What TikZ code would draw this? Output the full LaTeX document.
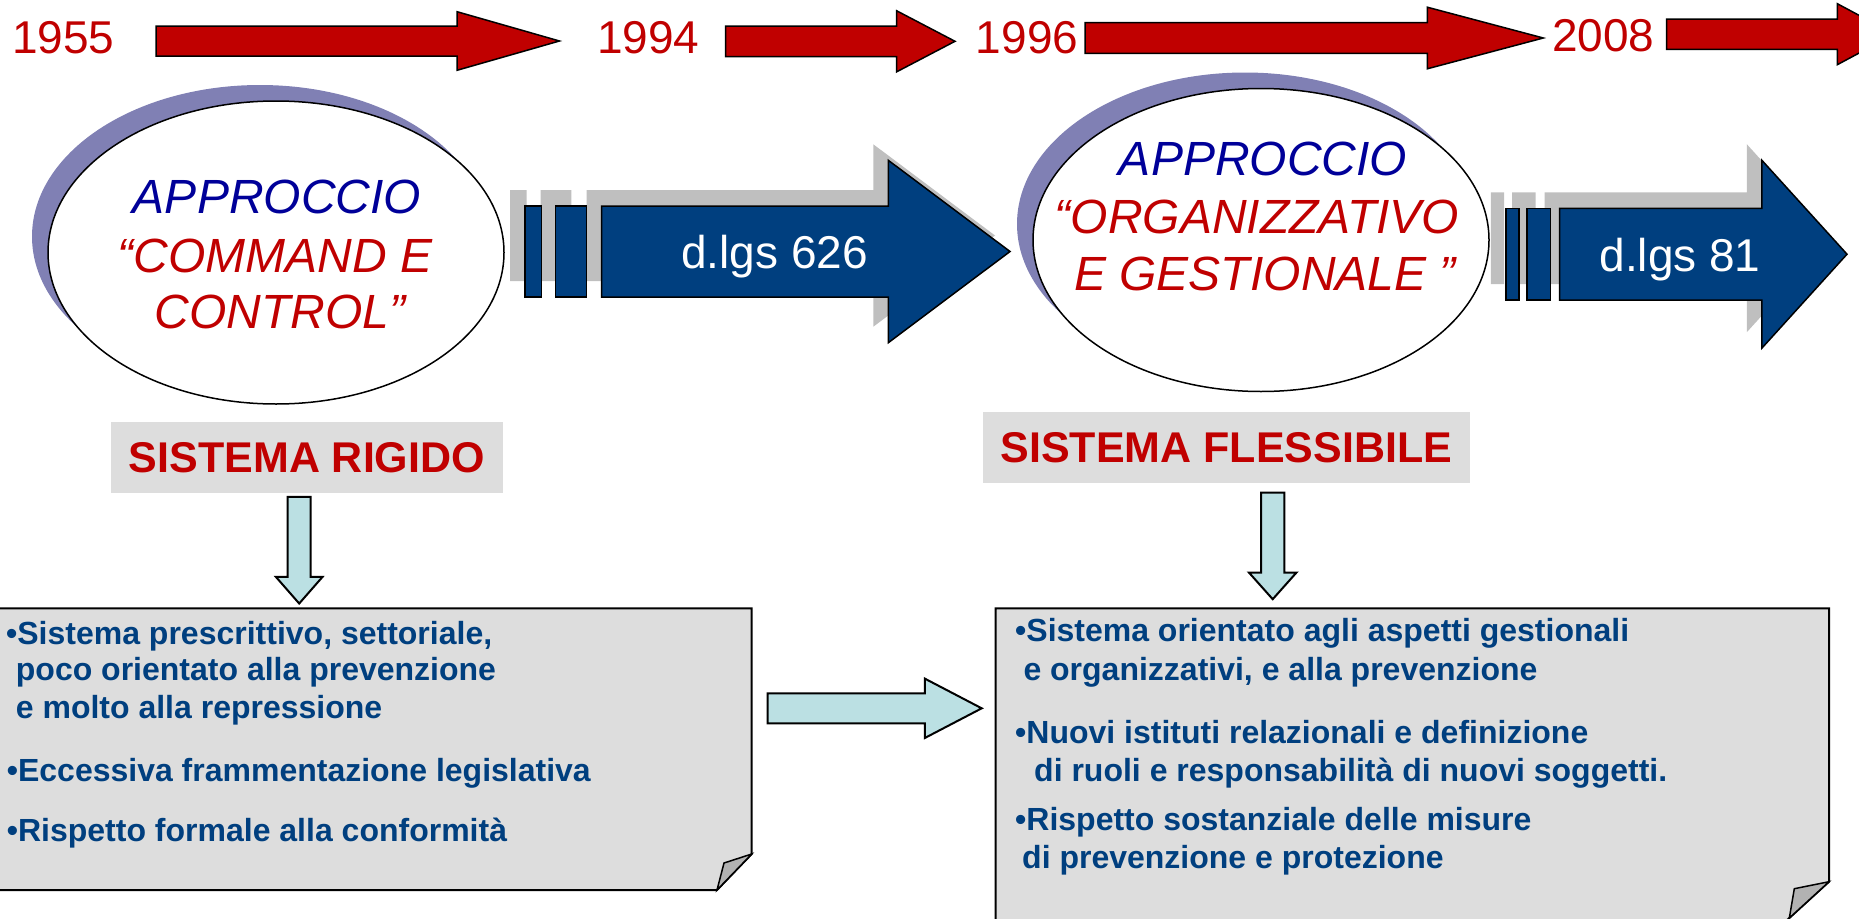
\documentclass[tikz,border=0pt]{standalone}
\usepackage{fontspec}
\setmainfont{Liberation Sans}
\usepackage{tikz}
\usetikzlibrary{shapes,positioning}
\definecolor{yearred}{rgb}{0.753, 0, 0}
\definecolor{apblue}{rgb}{0, 0, 0.6}
\definecolor{lawblue}{rgb}{0, 0.247, 0.498}
\definecolor{ovalshade}{rgb}{0.5, 0.5, 0.706}
\definecolor{lawshade}{rgb}{0.75, 0.75, 0.75}
\definecolor{panelgray}{rgb}{0.867, 0.867, 0.867}
\definecolor{flapgray}{rgb}{0.7, 0.7, 0.7}
\definecolor{pointcyan}{rgb}{0.733, 0.878, 0.890}
\tikzstyle{yearlabel}=[anchor=base, inner sep=0pt, text=yearred, font=\fontsize{46}{52}\selectfont]
\tikzstyle{timearrow}=[draw=black, line width=1.5pt, fill=yearred]
\tikzstyle{approach}=[ellipse, draw=black, line width=1.5pt, fill=white, minimum width=456pt, minimum height=303pt, inner sep=0pt]
\tikzstyle{approachshade}=[ellipse, fill=ovalshade, minimum width=456pt, minimum height=303pt, inner sep=0pt]
\tikzstyle{approachtext}=[anchor=base, inner sep=0pt, font=\itshape\fontsize{48}{56}\selectfont]
\tikzstyle{lawarrow}=[draw=black, line width=1.5pt, fill=lawblue]
\tikzstyle{lawshadow}=[fill=lawshade]
\tikzstyle{lawtext}=[anchor=base, inner sep=0pt, text=white, font=\fontsize{46}{52}\selectfont]
\tikzstyle{systembox}=[fill=panelgray, inner sep=0pt, minimum height=70.4pt, text=yearred, font=\bfseries\fontsize{43}{50}\selectfont]
\tikzstyle{pointer}=[draw=black, line width=2pt, fill=pointcyan]
\tikzstyle{panel}=[draw=black, line width=2pt, fill=panelgray]
\tikzstyle{flap}=[draw=black, line width=1.5pt, fill=flapgray]
\tikzstyle{paneltext}=[anchor=base west, inner sep=0pt, text=lawblue, font=\bfseries\fontsize{32}{38}\selectfont]
% arrow going right / down from a tail point: style, tail, shaft length, shaft half, head half, head length
\newcommand{\rightblock}[6]{\path[#1] (#2) ++(0,-#4) -- ++(#3,0) -- ++(0,#4-#5) -- ++(#6,#5) -- ++(-#6,#5) -- ++(0,#4-#5) -- ++(-#3,0) -- cycle;}
\newcommand{\downblock}[6]{\path[#1] (#2) ++(-#4,0) -- ++(0,#3) -- ++(#4-#5,0) -- ++(#5,#6) -- ++(#5,-#6) -- ++(#4-#5,0) -- ++(0,-#3) -- cycle;}

\begin{document}
\begin{tikzpicture}[x=1pt,y=-1pt]
\useasboundingbox (0,0) rectangle (1859,918);
\clip (0,0) rectangle (1859,918);

% timeline
\node[yearlabel] (y1955) at (63.2,53.3) {1955};
\node[yearlabel] (y1994) at (648.3,53.3) {1994};
\node[yearlabel] (y1996) at (1027,53.3) {1996};
\node[yearlabel] (y2008) at (1603.4,51.7) {2008};

\coordinate (t1) at (156,41);
\coordinate (t2) at (725.7,41.3);
\coordinate (t3) at (1085,38);
\coordinate (t4) at (1666.7,34.2);
\rightblock{timearrow}{t1}{301}{15}{29.3}{102.5}
\rightblock{timearrow}{t2}{171}{15.3}{30.5}{58.3}
\rightblock{timearrow}{t3}{342.3}{15.3}{30.8}{116}
\rightblock{timearrow}{t4}{170.6}{15.2}{30.5}{57}

% shadows of the law arrows
\begin{scope}[shift={(-15,-16)}]
\coordinate (law1shade) at (601.6,251.5);
\coordinate (law2shade) at (1559.7,254.2);
\path[lawshadow] (525,206) rectangle (541.5,297) (555.6,206) rectangle (586.4,297);
\rightblock{lawshadow}{law1shade}{286.7}{45.5}{91.2}{121.7}
\path[lawshadow] (1505.9,208.4) rectangle (1519,300) (1527,208.4) rectangle (1550.5,300);
\rightblock{lawshadow}{law2shade}{202.1}{45.8}{94}{85.2}
\end{scope}

% approaches
\node[approachshade] (cmdshade) at (260,236.5) {};
\node[approach] (cmd) at (276,252.5) {};
\node[approachshade] (orgshade) at (1245,224) {};
\node[approach] (org) at (1261,240) {};

\node[approachtext, text=apblue] (cmdA) at (277,213) {APPROCCIO};
\node[approachtext, text=yearred] (cmdB) at (275,272) {“COMMAND E};
\node[approachtext, text=yearred] (cmdC) at (280,328) {CONTROL”};
\node[approachtext, text=apblue] (orgA) at (1263,175) {APPROCCIO};
\node[approachtext, text=yearred] (orgB) at (1257,233) {“ORGANIZZATIVO};
\node[approachtext, text=yearred] (orgC) at (1265,290) {E GESTIONALE ”};

% law arrows
\coordinate (law1) at (601.6,251.5);
\coordinate (law2) at (1559.7,254.2);
\path[lawarrow] (525,206) rectangle (541.5,297) (555.6,206) rectangle (586.4,297);
\rightblock{lawarrow}{law1}{286.7}{45.5}{91.2}{121.7}
\path[lawarrow] (1505.9,208.4) rectangle (1519,300) (1527,208.4) rectangle (1550.5,300);
\rightblock{lawarrow}{law2}{202.1}{45.8}{94}{85.2}
\node[lawtext] (law626) at (774.5,268) {d.lgs 626};
\node[lawtext] (law81) at (1680,271) {d.lgs 81};

% systems
\node[systembox, minimum width=391.7pt] (rigido) at (306.9,457.5) {SISTEMA RIGIDO};
\node[systembox, minimum width=487.3pt] (flessibile) at (1226.4,447.5) {SISTEMA FLESSIBILE};

\coordinate (rdown) at ([xshift=-7.7pt,yshift=-4pt]rigido.south);
\coordinate (fdown) at ([xshift=46.3pt,yshift=-9.6pt]flessibile.south);
\downblock{pointer}{rdown}{80}{11.5}{23.3}{26.6}
\downblock{pointer}{fdown}{80}{11.7}{23.8}{26.7}

% panels
\draw[panel] (-3,608.3) -- (751.7,608.3) -- (751.7,854) -- (717,890) -- (-3,890) -- cycle;
\draw[flap] (751.7,854) -- (724,863) -- (717,890) -- cycle;
\draw[panel] (995.7,608.3) -- (1829,608.3) -- (1829,881.7) -- (1784.9,922) -- (995.7,922) -- cycle;
\draw[flap] (1829,881.7) -- (1794.3,888.7) -- (1789.3,918) -- cycle;

\coordinate (across) at (767.7,708.3);
\rightblock{pointer}{across}{157.1}{15}{29.7}{56.9}

\node[paneltext] (rigA) at (6,644) {•Sistema prescrittivo, settoriale,};
\node[paneltext] (rigB) at (15.7,680) {poco orientato alla prevenzione};
\node[paneltext] (rigC) at (15.7,718.3) {e molto alla repressione};
\node[paneltext] (rigD) at (6.7,781.7) {•Eccessiva frammentazione legislativa};
\node[paneltext] (rigE) at (6.7,841.7) {•Rispetto formale alla conformità};

\node[paneltext] (fleA) at (1015,641.7) {•Sistema orientato agli aspetti gestionali};
\node[paneltext] (fleB) at (1023.3,680) {e organizzativi, e alla prevenzione};
\node[paneltext] (fleC) at (1015,743.3) {•Nuovi istituti relazionali e definizione};
\node[paneltext] (fleD) at (1034,781.7) {di ruoli e responsabilità di nuovi soggetti.};
\node[paneltext] (fleE) at (1015,830) {•Rispetto sostanziale delle misure};
\node[paneltext] (fleF) at (1022,868.3) {di prevenzione e protezione};

\end{tikzpicture}
\end{document}
